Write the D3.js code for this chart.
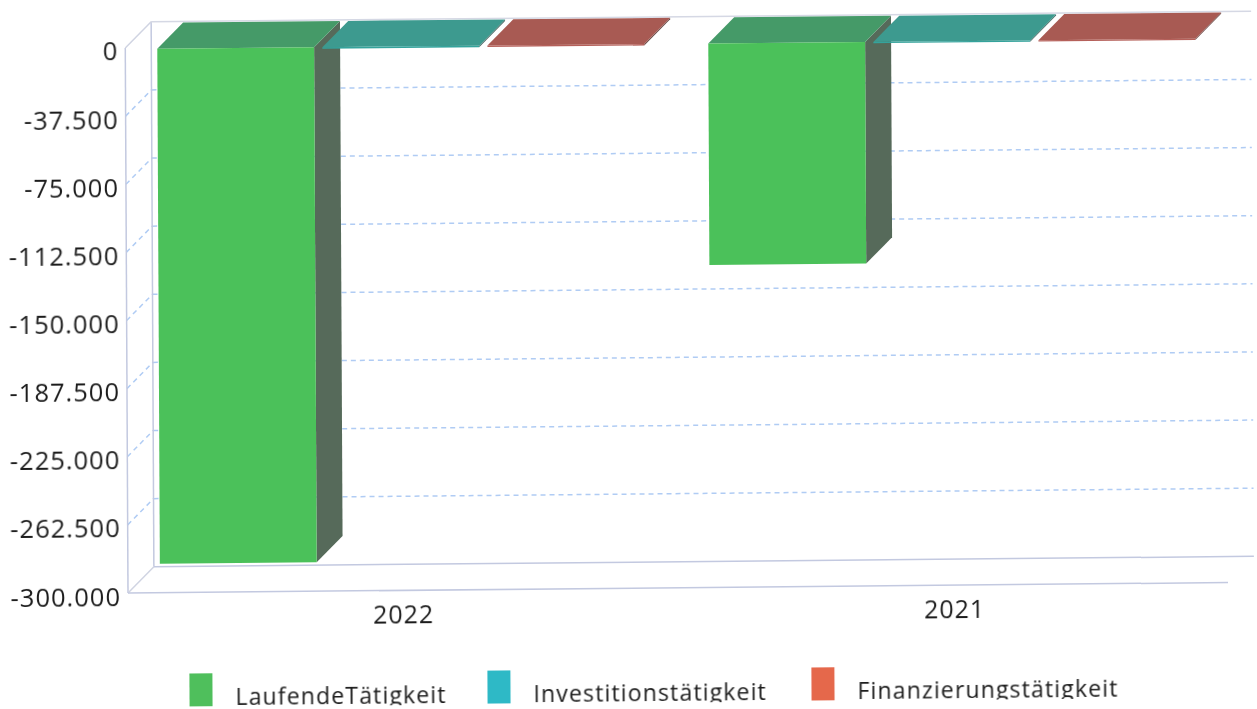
<!DOCTYPE html>
<html>
<head>
<meta charset="utf-8">
<script src="https://cdn.jsdelivr.net/npm/d3@7"></script>
<style>
    body { margin: 0; background: #fff; overflow: hidden; }
    text { font-family: "Open Sans", sans-serif; fill: #1c1c1c; }
</style>
</head>
<body>
<svg id="chart" width="1257" height="709"></svg>
<script>
const years = ['2022', '2021']
const seriesNames = ['LaufendeTätigkeit', 'Investitionstätigkeit', 'Finanzierungstätigkeit']
const laufende = [-283500, -122000]
const investition = [-900, -700]
const finanzierung = [-800, -600]
const yTicks = [0, -37500, -75000, -112500, -150000, -187500, -225000, -262500, -300000]

const frontColors = ['#4cc15a', '#35a39c', '#b5605a']
const topColors = ['#459a68', '#3d9a8f', '#a85a52']
const sideColors = ['#566b5a', '#4a6a66', '#6a4a46']
const legendColors = ['#4fbf5c', '#2fb9c6', '#e5674b']

const svg = d3.select('#chart')
const plotWidth = 1100
const plotHeight = 545
const depth = 26
const barShift = 1

// soft edges like the scan
svg.append('filter').attr('id', 'scan')
    .append('feGaussianBlur').attr('stdDeviation', 0.5)

// the scan is slightly tilted, so everything sits inside a skewed group
const g = svg.append('g')
    .attr('filter', 'url(#scan)')
    .append('g')
    .attr('transform', 'matrix(1,-0.0095,0.005,1,128,593)')

const yScale = d3.scaleLinear()
    .domain([-300000, 0])
    .range([0, -plotHeight])

const xScale = d3.scaleBand()
    .domain(years)
    .range([32, 32 + 1038])
    .paddingInner(64 / 551)
    .paddingOuter(0)

const seriesScale = d3.scaleBand()
    .domain(seriesNames)
    .range([0, xScale.bandwidth()])
    .paddingInner(0.05)

const german = d3.formatLocale({ decimal: ',', thousands: '.', grouping: [3], currency: ['', '€'], minus: '-' })

// walls
const wallColor = '#c3c9e0'
const line = (x1, y1, x2, y2, color) => g.append('line')
    .attr('x1', x1).attr('y1', y1).attr('x2', x2).attr('y2', y2)
    .attr('stroke', color).attr('stroke-width', 1.5)

yTicks.slice(1, -1).forEach(t => {
    const y = yScale(t)
    line(0, y, depth, y - depth, '#b0ccf4').attr('stroke-dasharray', '5 4')
    line(depth, y - depth, plotWidth + depth, y - depth, '#b0ccf4').attr('stroke-dasharray', '5 4')
})

line(0, 0, 0, -plotHeight, wallColor)
line(depth, -depth, depth, -plotHeight - depth, wallColor)
line(0, -plotHeight, depth, -plotHeight - depth, '#d0d4e2')
line(depth, -plotHeight - depth, plotWidth + depth, -plotHeight - depth, '#d5d8e4')
line(0, 0, depth, -depth, '#d0d4e2')
line(0, 0, plotWidth, 0, wallColor)
line(depth, -depth, plotWidth + depth, -depth, wallColor)

// bars
const series = [laufende, investition, finanzierung]
const poly = pts => 'M' + pts.map(p => p.join(',')).join('L') + 'Z'

years.forEach((year, i) => {
    seriesNames.forEach((name, s) => {
        const x0 = xScale(year) + seriesScale(name)
        const x1 = x0 + seriesScale.bandwidth()
        const yTop = yScale(0) + barShift
        const yBottom = yScale(series[s][i]) + barShift
        const bar = g.append('g').attr('class', 'bar')

        bar.append('path')
            .attr('d', poly([[x1, yTop], [x1 + depth, yTop - depth], [x1 + depth, yBottom - depth], [x1, yBottom]]))
            .attr('fill', sideColors[s])
        bar.append('path')
            .attr('d', poly([[x0, yTop], [x0 + depth, yTop - depth], [x1 + depth, yTop - depth], [x1, yTop]]))
            .attr('fill', topColors[s])
        bar.append('rect')
            .attr('x', x0)
            .attr('y', yTop)
            .attr('width', x1 - x0)
            .attr('height', yBottom - yTop)
            .attr('fill', frontColors[s])
    })
})

// axes
const yAxisG = g.append('g')
    .call(d3.axisLeft(yScale)
        .tickValues(yTicks)
        .tickSize(0)
        .tickPadding(7)
        .tickFormat(german.format(',')))
yAxisG.select('.domain').remove()
yAxisG.selectAll('text')
    .attr('dy', '0.47em')
    .style('font-family', '"Open Sans", sans-serif')
    .style('font-size', '25.5px')
    .style('letter-spacing', '1px')
    .attr('fill', '#1c1c1c')

const xAxisG = g.append('g')
    .call(d3.axisBottom(xScale).tickSize(0).tickPadding(15))
xAxisG.select('.domain').remove()
xAxisG.selectAll('text')
    .style('font-family', '"Open Sans", sans-serif')
    .style('font-size', '25px')
    .style('letter-spacing', '1px')
    .attr('fill', '#1c1c1c')

// legend, cut off at the bottom of the scan
g.append('clipPath').attr('id', 'legend-clip')
    .append('rect')
    .attr('x', 0).attr('y', 60).attr('width', 1200).attr('height', 54)

const legendX = [61, 359, 683]
const legend = g.append('g').attr('clip-path', 'url(#legend-clip)')

seriesNames.forEach((name, s) => {
    const item = legend.append('g').attr('transform', `translate(${legendX[s]},81)`)
    item.append('rect')
        .attr('width', 23)
        .attr('height', 33)
        .attr('fill', legendColors[s])
    item.append('text')
        .attr('x', 46)
        .attr('y', 32)
        .style('font-size', '23px')
        .style('letter-spacing', '1.15px')
        .text(name)
})
</script>
</body>
</html>
